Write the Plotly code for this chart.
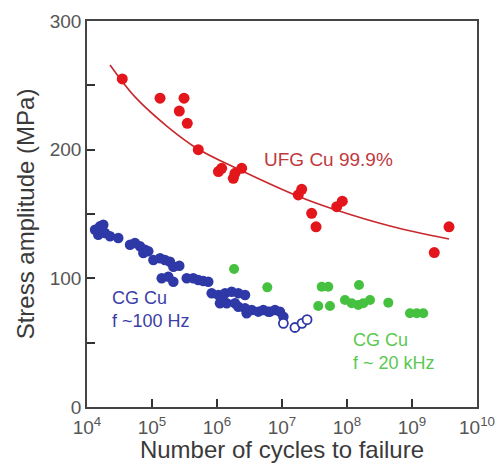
import plotly.graph_objects as go

# UFG Cu 99.9% (red)
ufg_n = [3.49e4, 1.33e5, 3.11e5, 2.63e5, 3.49e5, 5.15e5, 1.05e6, 1.18e6, 1.78e6, 1.89e6,
         2.40e6, 1.78e7, 2.01e7, 2.86e7, 3.34e7, 6.95e7, 8.47e7, 2.20e9, 3.71e9]
ufg_s = [255, 240, 240, 230, 220.5, 200, 183, 185.5, 177.7, 181.6,
         185.5, 164.8, 169.2, 150.5, 140, 155.7, 160, 120, 140]

# fitted curve
fit_n = [2.26e4, 5.47e4, 1.76e5, 5.11e5, 2.26e6, 1.89e7, 6.78e7, 4.59e8, 3.71e9]
fit_s = [265.8, 241.0, 217.6, 200.5, 184.2, 163.2, 153.1, 140.7, 130.6]

# CG Cu f~100 Hz (blue, filled)
cg_n = [1.33e4, 1.58e4, 1.78e4, 1.49e4, 1.89e4, 2.26e4, 3.03e4, 4.59e4, 5.47e4, 6.53e4,
        7.80e4, 8.77e4, 7.35e4, 1.05e5, 1.33e5, 1.58e5, 1.89e5, 2.13e5, 2.63e5, 1.41e5,
        1.78e5, 2.13e5, 3.42e5, 4.32e5, 5.15e5, 6.15e5, 7.34e5, 8.28e5, 1.05e6, 1.25e6,
        1.33e6, 1.68e6, 2.13e6, 2.70e6, 1.11e6, 1.41e6, 1.89e6, 2.13e6, 2.70e6, 3.42e6,
        4.32e6, 5.15e6, 6.15e6, 2.86e6, 6.53e6, 7.80e6, 9.31e6, 1.05e7]
cg_s = [137.8, 140.4, 141.7, 133.9, 135.2, 132.7, 131.3, 126.1, 127.5, 124.9,
        122.3, 121.0, 119.7, 114.2, 115.6, 114.2, 112.9, 109.0, 109.8, 100.0,
        101.3, 97.4, 100.0, 100.0, 98.7, 97.9, 97.4, 88.4, 87.0, 87.0,
        88.4, 89.6, 88.4, 87.0, 80.6, 80.6, 80.6, 77.9, 76.7, 75.4,
        74.1, 75.4, 74.1, 72.8, 74.1, 75.4, 74.1, 70.2]

# CG Cu runouts (blue, open)
cg_open_n = [1.05e7, 1.58e7, 2.03e7, 2.43e7]
cg_open_s = [65.0, 61.8, 65.0, 67.9]

# CG Cu f~20 kHz (green)
us_n = [1.83e6, 5.94e6, 4.08e7, 5.15e7, 1.53e8, 3.61e7, 5.47e7, 9.31e7, 1.18e8, 1.49e8,
        1.78e8, 2.26e8, 4.32e8, 9.31e8, 1.18e9, 1.49e9]
us_s = [107.3, 93.0, 93.5, 93.5, 94.8, 78.5, 78.5, 83.2, 80.6, 79.3,
        80.6, 83.2, 81.1, 72.8, 72.8, 72.8]

x_tickvals = [1e4, 1e5, 1e6, 1e7, 1e8, 1e9, 1e10]
x_ticktext = ["10<sup>4</sup>", "10<sup>5</sup>", "10<sup>6</sup>", "10<sup>7</sup>",
              "10<sup>8</sup>", "10<sup>9</sup>", "10<sup>10</sup>"]
y_tickvals = [0, 50, 100, 150, 200, 250, 300]
y_ticktext = ["0", "", "100", "", "200", "", "300"]

RED = "#e3161c"
BLUE = "#2e38a6"
GREEN = "#45c13f"
FONT = "Arial, Liberation Sans, sans-serif"

fig = go.Figure()
fig.add_trace(go.Scatter(x=fit_n, y=fit_s, mode="lines",
                         line=dict(color="#c8282c", width=1.6, shape="spline", smoothing=1.0),
                         showlegend=False, hoverinfo="skip"))
fig.add_trace(go.Scatter(x=ufg_n, y=ufg_s, mode="markers",
                         marker=dict(color=RED, size=11, line=dict(width=0)), showlegend=False))
fig.add_trace(go.Scatter(x=cg_n, y=cg_s, mode="markers",
                         marker=dict(color=BLUE, size=10.5, line=dict(width=0)), showlegend=False))
fig.add_trace(go.Scatter(x=cg_open_n, y=cg_open_s, mode="markers",
                         marker=dict(color="white", size=9, line=dict(width=1.8, color=BLUE)), showlegend=False))
fig.add_trace(go.Scatter(x=us_n, y=us_s, mode="markers",
                         marker=dict(color=GREEN, size=10, line=dict(width=0)), showlegend=False))

fig.add_annotation(x=6.69, y=192, xref="x", yref="y", text="UFG Cu 99.9%", showarrow=False,
                   xanchor="left", yanchor="middle", font=dict(family=FONT, size=19, color="#c0393e"))
fig.add_annotation(x=4.35, y=76, xref="x", yref="y", text="CG Cu<br>f ~100 Hz", showarrow=False,
                   xanchor="left", yanchor="middle", align="left",
                   font=dict(family=FONT, size=18, color="#3c3ea8"))
fig.add_annotation(x=8.06, y=43.5, xref="x", yref="y", text="CG Cu<br>f ~ 20 kHz", showarrow=False,
                   xanchor="left", yanchor="middle", align="left",
                   font=dict(family=FONT, size=18, color="#5ac852"))

fig.update_xaxes(type="log", range=[4, 10], tickvals=x_tickvals, ticktext=x_ticktext,
                 ticks="inside", ticklen=8, tickwidth=1.5, tickcolor="#333",
                 showline=True, linecolor="#444", linewidth=1.5, mirror=True,
                 showgrid=False, zeroline=False, ticklabelstandoff=2, automargin=False,
                 tickfont=dict(family=FONT, size=19, color="#555"),
                 title=dict(text="Number of cycles to failure", standoff=4,
                            font=dict(family=FONT, size=24, color="#3a3a3a")))
fig.update_yaxes(range=[0, 300], tickvals=y_tickvals, ticktext=y_ticktext,
                 ticks="inside", ticklen=8, tickwidth=1.5, tickcolor="#333",
                 showline=True, linecolor="#444", linewidth=1.5, mirror=True,
                 showgrid=False, zeroline=False, automargin=False,
                 tickfont=dict(family=FONT, size=19, color="#555"),
                 title=dict(text="Stress amplitude (MPa)", standoff=8,
                            font=dict(family=FONT, size=24, color="#3a3a3a")))

fig.update_layout(width=496, height=463, margin=dict(l=87, r=19, t=21, b=56),
                  paper_bgcolor="white", plot_bgcolor="white", showlegend=False)

fig.write_html("out.html")
